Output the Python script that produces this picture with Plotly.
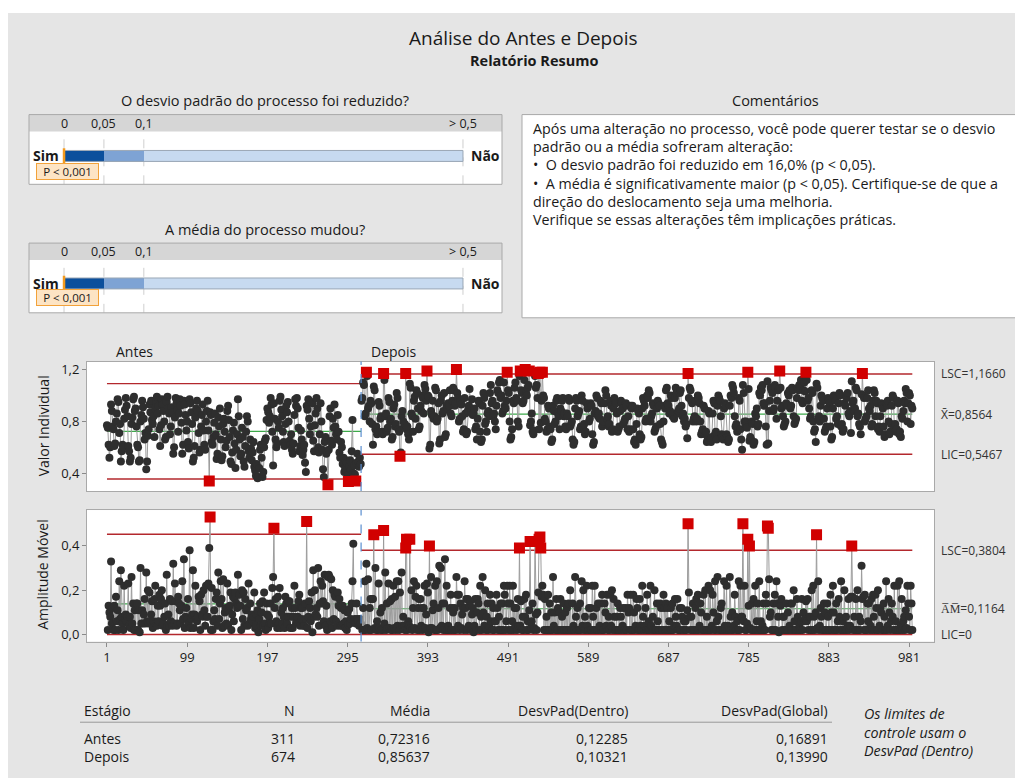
import plotly.graph_objects as go

# ---------------- DATA ----------------
stages = ["Antes", "Depois"]
n_obs = [311, 674]
media = [0.72316, 0.85637]
desvpad_dentro = [0.12285, 0.10321]
desvpad_global = [0.16891, 0.13990]

p_desvio = "P < 0,001"
p_media = "P < 0,001"
p_bands = [0.0, 0.05, 0.1, 0.5]
p_ticktext = ["0", "0,05", "0,1", "> 0,5"]

x_ticks = [1, 99, 197, 295, 393, 491, 589, 687, 785, 883, 981]
i_ticks = [0.4, 0.8, 1.2]
mr_ticks = [0.0, 0.2, 0.4]

antes = [
    0.77, 0.75, 0.62, 0.52, 0.60, 0.93, 0.88, 0.76, 0.74, 0.61,
    0.63, 0.80, 0.86, 0.97, 0.95, 0.71, 0.78, 0.49, 0.57, 0.62,
    0.60, 0.82, 0.89, 0.98, 0.92, 0.84, 0.61, 0.57, 0.49, 0.52,
    0.78, 0.83, 0.97, 0.99, 0.88, 0.90, 0.76, 0.62, 0.60, 0.49,
    0.50, 0.80, 0.85, 0.96, 0.91, 0.82, 0.66, 0.71, 0.43, 0.49,
    0.69, 0.74, 0.93, 0.87, 0.96, 0.81, 0.78, 0.84, 0.68, 0.90,
    0.95, 0.99, 0.86, 0.92, 0.74, 0.61, 0.77, 0.97, 0.93, 0.88,
    0.80, 0.66, 0.68, 0.95, 0.99, 0.90, 0.86, 0.70, 0.76, 0.91,
    0.87, 0.55, 0.60, 0.83, 0.98, 0.94, 0.89, 0.72, 0.86, 0.97,
    0.92, 0.79, 0.55, 0.62, 0.96, 0.93, 0.85, 0.73, 0.80, 0.64,
    0.59, 0.97, 0.94, 0.87, 0.78, 0.49, 0.52, 0.61, 0.83, 0.90,
    0.96, 0.88, 0.71, 0.56, 0.58, 0.76, 0.85, 0.93, 0.73, 0.62,
    0.58, 0.80, 0.88, 0.96, 0.73, 0.34, 0.87, 0.85, 0.64, 0.62,
    0.68, 0.79, 0.86, 0.70, 0.51, 0.55, 0.83, 0.76, 0.90, 0.66,
    0.50, 0.53, 0.78, 0.82, 0.72, 0.60, 0.65, 0.88, 0.92, 0.81,
    0.68, 0.49, 0.47, 0.56, 0.73, 0.79, 0.63, 0.44, 0.58, 0.70,
    0.97, 0.84, 0.66, 0.53, 0.55, 0.75, 0.68, 0.49, 0.45, 0.61,
    0.72, 0.84, 0.80, 0.57, 0.52, 0.66, 0.59, 0.50, 0.56, 0.64,
    0.45, 0.42, 0.38, 0.47, 0.36, 0.37, 0.44, 0.58, 0.62, 0.52,
    0.37, 0.41, 0.60, 0.65, 0.67, 0.81, 0.90, 0.87, 0.79, 0.84,
    0.98, 0.93, 0.72, 0.46, 0.94, 0.82, 0.66, 0.60, 0.63, 0.80,
    0.75, 0.96, 0.99, 0.89, 0.84, 0.72, 0.64, 0.61, 0.78, 0.92,
    0.87, 0.95, 0.80, 0.65, 0.62, 0.70, 0.58, 0.55, 0.63, 0.85,
    0.97, 0.92, 0.98, 0.90, 0.75, 0.57, 0.61, 0.73, 0.66, 0.54,
    0.58, 0.62, 0.48, 0.41, 0.92, 0.89, 0.97, 0.82, 0.70, 0.76,
    0.95, 0.94, 0.65, 0.57, 0.77, 0.86, 0.98, 0.90, 0.60, 0.56,
    0.70, 0.94, 0.80, 0.58, 0.43, 0.37, 0.64, 0.68, 0.55, 0.57,
    0.31, 0.58, 0.84, 0.90, 0.65, 0.62, 0.82, 0.75, 0.93, 0.76,
    0.70, 0.66, 0.85, 0.72, 0.56, 0.52, 0.64, 0.60, 0.47, 0.52,
    0.41, 0.44, 0.50, 0.48, 0.38, 0.335, 0.45, 0.50, 0.43, 0.57,
    0.81, 0.40, 0.46, 0.39, 0.34, 0.48, 0.55, 0.49, 0.45, 0.52,
    0.47,
]

depois = [
    0.96, 0.98, 1.10, 1.08, 0.84, 0.86, 1.18, 1.15, 0.90, 0.92,
    0.80, 0.96, 0.94, 0.78, 0.62, 1.07, 1.04, 0.74, 0.76, 0.70,
    0.72, 0.95, 0.92, 0.82, 0.84, 0.72, 0.70, 1.17, 1.12, 0.84,
    0.86, 0.72, 0.75, 0.98, 0.95, 0.80, 0.82, 0.66, 0.68, 0.90,
    0.93, 0.76, 0.78, 1.02, 0.98, 0.74, 0.72, 0.53, 0.56, 0.84,
    0.88, 0.80, 0.76, 0.78, 1.17, 0.74, 0.76, 0.70, 0.66, 1.09,
    1.06, 0.86, 0.84, 0.72, 0.96, 0.99, 0.82, 1.04, 1.02, 0.90,
    0.74, 0.76, 0.92, 0.88, 1.00, 0.98, 0.86, 1.08, 1.05, 0.96,
    1.19, 1.00, 0.99, 0.59, 0.62, 0.88, 0.85, 0.96, 0.82, 0.84,
    1.06, 1.04, 0.80, 0.82, 0.94, 0.63, 0.66, 0.96, 1.00, 0.86,
    0.88, 1.02, 0.68, 0.70, 0.92, 0.90, 0.94, 0.92, 1.04, 0.86,
    0.84, 0.96, 1.06, 1.04, 0.92, 0.94, 1.20, 1.02, 0.98, 0.80,
    0.82, 0.96, 0.93, 0.84, 0.72, 0.74, 0.98, 0.86, 0.70, 0.72,
    0.88, 0.92, 1.05, 0.90, 0.88, 0.97, 0.85, 0.86, 0.90, 0.74,
    0.76, 0.66, 0.82, 0.96, 0.94, 0.72, 0.64, 0.66, 0.92, 1.02,
    0.98, 0.78, 0.80, 0.72, 0.86, 0.88, 0.84, 1.02, 1.08, 0.94,
    0.96, 0.84, 0.86, 0.80, 0.74, 0.92, 1.04, 1.02, 1.10, 1.12,
    0.98, 1.00, 0.86, 0.88, 1.10, 0.92, 0.90, 0.96, 1.18, 1.04,
    1.02, 0.80, 0.66, 0.68, 0.74, 0.96, 0.94, 1.06, 1.10, 0.98,
    0.96, 0.80, 0.76, 1.15, 1.19, 1.04, 1.02, 0.94, 0.96, 1.12,
    1.20, 1.02, 1.00, 1.06, 1.08, 1.19, 0.77, 0.80, 0.86, 0.72,
    0.70, 0.73, 1.15, 1.06, 1.08, 0.98, 1.17, 0.74, 1.18, 0.79,
    0.96, 1.18, 1.00, 0.98, 0.82, 0.80, 0.72, 0.74, 0.92, 0.90,
    0.76, 0.74, 0.64, 0.66, 0.92, 0.88, 0.78, 0.80, 0.96, 0.98,
    0.86, 0.84, 0.74, 0.90, 0.88, 0.96, 0.98, 0.84, 0.86, 0.76,
    0.74, 0.86, 0.84, 0.98, 0.96, 0.76, 0.78, 0.80, 0.66, 0.62,
    0.64, 0.90, 0.98, 0.96, 0.84, 0.86, 0.88, 0.74, 0.76, 1.00,
    0.96, 0.76, 0.78, 0.70, 0.72, 0.94, 0.90, 0.92, 0.80, 0.82,
    0.94, 0.92, 0.70, 0.62, 0.64, 0.86, 0.88, 1.00, 0.98, 0.84,
    0.86, 0.82, 0.96, 0.94, 0.76, 0.78, 0.80, 0.94, 1.04, 1.00,
    0.82, 0.84, 0.76, 0.78, 0.96, 0.92, 0.72, 0.74, 0.90, 0.98,
    0.96, 0.94, 0.86, 0.72, 0.74, 0.76, 0.88, 0.96, 0.94, 0.90,
    0.78, 0.80, 0.82, 0.94, 0.92, 0.74, 0.84, 0.72, 0.74, 0.92,
    0.90, 0.92, 0.74, 0.64, 0.66, 0.62, 0.78, 0.90, 0.88, 0.86,
    0.70, 0.66, 0.68, 0.90, 0.98, 0.96, 0.92, 0.80, 0.82, 1.00,
    0.98, 1.04, 1.02, 0.80, 0.84, 0.86, 0.94, 0.92, 0.72, 0.74,
    0.76, 0.90, 0.96, 0.94, 0.92, 0.78, 0.66, 0.64, 0.62, 0.80,
    0.92, 0.90, 1.04, 1.06, 0.94, 0.92, 0.86, 0.88, 1.00, 0.98,
    0.84, 0.86, 0.82, 0.98, 1.06, 1.02, 0.86, 0.88, 0.90, 1.02,
    1.04, 0.92, 0.84, 0.86, 0.80, 0.82, 0.76, 0.78, 0.67, 1.17,
    0.98, 1.06, 1.04, 0.96, 0.94, 0.80, 0.82, 0.84, 0.96, 0.80,
    0.82, 1.00, 0.98, 0.94, 0.80, 0.70, 0.72, 0.74, 0.92, 0.90,
    0.70, 0.72, 0.64, 0.66, 0.88, 0.86, 0.66, 0.64, 0.68, 0.86,
    0.96, 0.94, 0.70, 0.72, 0.66, 0.92, 1.00, 0.98, 0.96, 0.84,
    0.70, 0.68, 0.66, 0.90, 0.94, 0.92, 0.70, 0.68, 0.64, 0.66,
    0.92, 1.00, 0.98, 1.08, 1.06, 1.02, 0.84, 0.76, 0.78, 0.72,
    0.74, 0.98, 0.96, 0.74, 0.66, 0.58, 1.08, 1.02, 0.80, 0.78,
    0.80, 0.75, 1.18, 1.05, 0.65, 0.68, 0.66, 0.80, 0.78, 0.62,
    0.64, 0.86, 0.84, 0.90, 0.76, 0.78, 1.02, 1.00, 1.06, 1.04,
    1.08, 0.94, 0.92, 0.94, 0.76, 0.62, 1.11, 0.63, 0.88, 0.96,
    1.06, 1.04, 1.02, 0.88, 0.90, 1.08, 1.06, 0.82, 0.96, 1.04,
    1.05, 1.19, 1.06, 0.90, 0.92, 0.84, 0.76, 0.78, 0.80, 0.94,
    0.92, 1.02, 1.00, 1.04, 0.90, 0.92, 1.06, 1.04, 0.84, 0.78,
    0.80, 0.82, 0.98, 1.06, 1.04, 1.08, 1.06, 1.12, 0.96, 0.94,
    1.04, 1.10, 1.03, 1.18, 1.12, 0.96, 0.98, 0.90, 0.82, 0.84,
    1.04, 1.02, 0.80, 0.72, 0.74, 0.64, 1.09, 1.06, 0.82, 0.84,
    0.80, 0.92, 1.00, 0.98, 0.96, 0.82, 0.72, 0.74, 0.76, 0.90,
    0.98, 0.96, 0.94, 0.76, 0.66, 0.68, 0.90, 1.00, 0.98, 0.96,
    0.82, 0.84, 0.78, 0.94, 1.02, 1.00, 0.76, 0.78, 0.72, 0.74,
    0.94, 0.92, 1.00, 0.98, 1.02, 0.86, 0.84, 0.88, 0.71, 1.11,
    0.94, 0.96, 0.88, 0.90, 1.06, 1.04, 0.84, 0.86, 0.78, 0.76,
    0.70, 1.01, 1.17, 1.00, 0.98, 0.80, 0.82, 0.84, 0.98, 1.04,
    0.90, 0.88, 0.92, 0.76, 0.78, 0.96, 1.04, 1.02, 0.84, 0.96,
    0.94, 0.74, 0.76, 0.72, 0.84, 0.94, 0.92, 0.90, 0.76, 0.68,
    0.70, 0.94, 0.92, 0.96, 0.80, 0.70, 0.72, 0.78, 0.92, 1.00,
    0.98, 0.76, 0.78, 0.72, 0.74, 0.96, 0.94, 0.70, 0.72, 0.68,
    0.84, 0.82, 0.88, 0.96, 0.94, 1.05, 1.02, 0.80, 0.94, 1.02,
    1.00, 0.78, 0.92, 0.90,
]

# ---------------- HELPERS ----------------
# the page body adds an 8 px margin, so the figure is placed at (8, 8)
OFF = 8
W, H = 1015, 770
FONT = "Open Sans"
TXT = "#1a1a1a"


def px(x):
    return (x - OFF) / W


def py(y):
    return 1 - (y - OFF) / H


def fmt(v, d):
    return f"{v:.{d}f}".replace(".", ",")


fig = go.Figure()


def txt(x, y, text, size=14, xanchor="center", yanchor="middle", yref="paper", **kw):
    fig.add_annotation(x=x, y=y, xref="paper", yref=yref, text=text, showarrow=False,
                       xanchor=xanchor, yanchor=yanchor,
                       font=dict(size=size, color=kw.pop("color", TXT), family=FONT), **kw)


# ---------------- CONTROL CHARTS ----------------
series = [antes, depois]
start = 1
boundaries = []
for k, vals in enumerate(series):
    n = len(vals)
    xs = list(range(start, start + n))
    x_lo = xs[0] if k == 0 else start - 0.5
    x_hi = xs[-1] + (0.5 if k == 0 else 0)
    if k == 0:
        boundaries.append(xs[-1] + 0.5)
    m = media[k]
    s = desvpad_dentro[k]
    ucl, lcl = m + 3 * s, m - 3 * s
    mrbar = 1.128 * s
    mr_ucl = mrbar + 3 * 0.8525 * s
    for yv, col, wd in [(ucl, "#b3282d", 1.4), (lcl, "#b3282d", 1.4), (m, "#3daa4a", 1.1)]:
        fig.add_trace(go.Scatter(x=[x_lo, x_hi], y=[yv, yv], mode="lines",
                                 line=dict(color=col, width=wd), xaxis="x", yaxis="y",
                                 hoverinfo="skip", showlegend=False))
    for yv, col, wd in [(mr_ucl, "#b3282d", 1.4), (0.0, "#b3282d", 1.4), (mrbar, "#3daa4a", 1.1)]:
        fig.add_trace(go.Scatter(x=[x_lo, x_hi], y=[yv, yv], mode="lines",
                                 line=dict(color=col, width=wd), xaxis="x2", yaxis="y2",
                                 hoverinfo="skip", showlegend=False))
    fig.add_trace(go.Scatter(x=xs, y=vals, mode="lines+markers",
                             line=dict(color="#9c9c9c", width=1),
                             marker=dict(color="#2e2e2e", size=8),
                             xaxis="x", yaxis="y", showlegend=False))
    rx = [x for x, v in zip(xs, vals) if v > ucl or v < lcl]
    ry = [v for v in vals if v > ucl or v < lcl]
    fig.add_trace(go.Scatter(x=rx, y=ry, mode="markers",
                             marker=dict(color="#d10000", size=11, symbol="square"),
                             xaxis="x", yaxis="y", showlegend=False))
    mr_x = xs[1:]
    mr_y = [abs(vals[i] - vals[i - 1]) for i in range(1, n)]
    fig.add_trace(go.Scatter(x=mr_x, y=mr_y, mode="lines+markers",
                             line=dict(color="#9c9c9c", width=1),
                             marker=dict(color="#2e2e2e", size=8),
                             xaxis="x2", yaxis="y2", showlegend=False))
    rmx = [x for x, v in zip(mr_x, mr_y) if v > mr_ucl]
    rmy = [v for v in mr_y if v > mr_ucl]
    fig.add_trace(go.Scatter(x=rmx, y=rmy, mode="markers",
                             marker=dict(color="#d10000", size=11, symbol="square"),
                             xaxis="x2", yaxis="y2", showlegend=False))
    if k == len(series) - 1:
        for yv, t in [(ucl, "LSC=" + fmt(ucl, 4)), (m, "X\u0304=" + fmt(m, 4)), (lcl, "LIC=" + fmt(lcl, 4))]:
            txt(px(939), yv, t, size=12, xanchor="left", yref="y", color="#333")
        for yv, t in [(mr_ucl, "LSC=" + fmt(mr_ucl, 4)), (mrbar, "A\u0305M\u0305=" + fmt(mrbar, 4)),
                      (0.0, "LIC=0")]:
            txt(px(939), yv, t, size=12, xanchor="left", yref="y2", color="#333")
    start += n

for xr_, yr_ in [("x", "y domain"), ("x2", "y2 domain")]:
    fig.add_shape(type="line", x0=boundaries[0], x1=boundaries[0], y0=0, y1=1, xref=xr_, yref=yr_,
                  line=dict(color="#5b8fd0", width=1.2, dash="dash"), layer="above")

# ---------------- P-VALUE BARS ----------------
bar_cols = ["#0b4f9c", "#7ea3d4", "#c7daf0"]
bar_specs = [("x3", "y3", 0.407, p_desvio, 171, "O desvio padrão do processo foi reduzido?", 100),
             ("x4", "y4", 0.421, p_media, 298, "A média do processo mudou?", 229)]
for xa, ya, yc, ptxt, pbox_y, ttl, ttl_y in bar_specs:
    for j in range(3):
        fig.add_trace(go.Bar(y=[yc], x=[p_bands[j + 1] - p_bands[j]], base=[p_bands[j]],
                             orientation="h", width=0.157,
                             marker=dict(color=bar_cols[j], line=dict(width=0)),
                             xaxis=xa, yaxis=ya, showlegend=False, hoverinfo="skip"))
    fig.add_shape(type="rect", x0=p_bands[0], x1=p_bands[-1], y0=yc - 0.0785, y1=yc + 0.0785,
                  xref=xa, yref=ya, line=dict(color="#9aa7b5", width=1), layer="above")
    fig.add_shape(type="rect", x0=0, x1=1, y0=0.757, y1=1, xref=xa + " domain", yref=ya + " domain",
                  fillcolor="#d6d6d6", line=dict(width=0), layer="above")
    fig.add_shape(type="rect", x0=0, x1=1, y0=0, y1=1, xref=xa + " domain", yref=ya + " domain",
                  line=dict(color="#a9a9a9", width=1), layer="above")
    for pv, tt in zip(p_bands, p_ticktext):
        fig.add_shape(type="line", x0=pv, x1=pv, y0=0, y1=0.757, xref=xa, yref=ya,
                      line=dict(color="#cfcfcf", width=1, dash="dash"), layer="below")
        fig.add_annotation(x=pv, y=0.878, xref=xa, yref=ya, text=tt, showarrow=False,
                           xanchor="center", yanchor="middle",
                           font=dict(size=12.5, color=TXT, family=FONT))
    fig.add_shape(type="line", x0=0, x1=0, y0=yc - 0.11, y1=yc + 0.11, xref=xa, yref=ya,
                  line=dict(color="#f39a1e", width=2.5), layer="above")
    txt(px(61), yc, "<b>Sim</b>", size=14, xanchor="right", yref=ya)
    txt(px(469), yc, "<b>Não</b>", size=14, xanchor="left", yref=ya)
    txt(px(67.5), py(pbox_y), ptxt, size=11.5, bgcolor="#fde4c4", bordercolor="#f2a23a",
        borderwidth=1, borderpad=0, width=61)
    txt(px(265), py(ttl_y), ttl, size=14.5)

# ---------------- COMMENTS ----------------
fig.add_shape(type="rect", x0=px(522), x1=px(1040), y0=py(318), y1=py(114), xref="paper",
              yref="paper", fillcolor="white", line=dict(color="#a9a9a9", width=1), layer="above")
txt(px(775), py(100), "Comentários", size=14.5)
coment = [
    "Após uma alteração no processo, você pode querer testar se o desvio",
    "padrão ou a média sofreram alteração:",
    "•  O desvio padrão foi reduzido em 16,0% (p < 0,05).",
    "•  A média é significativamente maior (p < 0,05). Certifique-se de que a",
    "direção do deslocamento seja uma melhoria.",
    "Verifique se essas alterações têm implicações práticas.",
]
for i, line in enumerate(coment):
    txt(px(531), py(128 + 18.3 * i), line, size=14.3, xanchor="left")

# ---------------- TITLES / LABELS ----------------
txt(px(523), py(37), "Análise do Antes e Depois", size=19)
txt(px(534), py(60), "<b>Relatório Resumo</b>", size=14.5)
txt(px(114), py(352), stages[0], size=14, xanchor="left")
txt(px(369), py(352), stages[1], size=14, xanchor="left")
txt(px(43), py(427), "Valor Individual", size=14, textangle=-90)
txt(px(43), py(576), "Amplitude Móvel", size=14, textangle=-90)

# ---------------- TABLE ----------------
cols = [("Estágio", 82, "left"), ("N", 297, "right"), ("Média", 432, "right"),
        ("DesvPad(Dentro)", 630, "right"), ("DesvPad(Global)", 830, "right")]
rows = [[stages[i], str(n_obs[i]), fmt(media[i], 5), fmt(desvpad_dentro[i], 5), fmt(desvpad_global[i], 5)]
        for i in range(2)]
for (hdr, xx, anc) in cols:
    txt(px(xx), py(712), hdr, size=14, xanchor=anc)
for r, ry in zip(rows, [740, 758]):
    for (hdr, xx, anc), val in zip(cols, r):
        txt(px(xx), py(ry), val, size=14, xanchor=anc)
fig.add_shape(type="line", x0=px(80), x1=px(832), y0=py(724), y1=py(724), xref="paper", yref="paper",
              line=dict(color="#9a9a9a", width=1))
txt(px(862), py(704), "<i>Os limites de<br>controle usam o<br>DesvPad (Dentro)</i>", size=14.3,
    xanchor="left", yanchor="top", align="left")

# white band at the very top of the page
fig.add_shape(type="rect", x0=0, x1=1, y0=py(12), y1=1.01, xref="paper", yref="paper",
              fillcolor="white", line=dict(width=0), layer="above")

# ---------------- LAYOUT ----------------
axis_line = dict(showline=True, mirror=True, linecolor="#a9a9a9", linewidth=1, showgrid=False,
                 zeroline=False)
xr = [-23.4, 1011.5]
fig.update_layout(
    width=W, height=H, autosize=False, margin=dict(l=0, r=0, t=0, b=0),
    paper_bgcolor="#e5e5e5", plot_bgcolor="white",
    font=dict(family=FONT, color=TXT), separators=",.", bargap=0, barmode="overlay",
    xaxis=dict(domain=[px(87), px(934)], range=xr, showticklabels=False, ticks="", anchor="y", **axis_line),
    yaxis=dict(domain=[py(492), py(362)], range=[0.2615, 1.2615], tickvals=i_ticks,
               ticktext=[fmt(v, 1) for v in i_ticks], ticks="outside", ticklen=4, tickcolor="#8a8a8a",
               tickfont=dict(size=13), anchor="x", **axis_line),
    xaxis2=dict(domain=[px(87), px(934)], range=xr, tickvals=x_ticks, ticks="outside", ticklen=4,
                tickcolor="#8a8a8a", tickfont=dict(size=13), anchor="y2", **axis_line),
    yaxis2=dict(domain=[py(643), py(511)], range=[-0.0315, 0.5618], tickvals=mr_ticks,
                ticktext=[fmt(v, 1) for v in mr_ticks], ticks="outside", ticklen=4, tickcolor="#8a8a8a",
                tickfont=dict(size=13), anchor="x2", **axis_line),
    xaxis3=dict(domain=[px(29), px(502)], range=[-0.0439, 0.5489], visible=False, anchor="y3"),
    yaxis3=dict(domain=[py(184), py(114)], range=[0, 1], visible=False, anchor="x3"),
    xaxis4=dict(domain=[px(29), px(502)], range=[-0.0439, 0.5489], visible=False, anchor="y4"),
    yaxis4=dict(domain=[py(313), py(243)], range=[0, 1], visible=False, anchor="x4"),
)

fig.write_html("out.html")
